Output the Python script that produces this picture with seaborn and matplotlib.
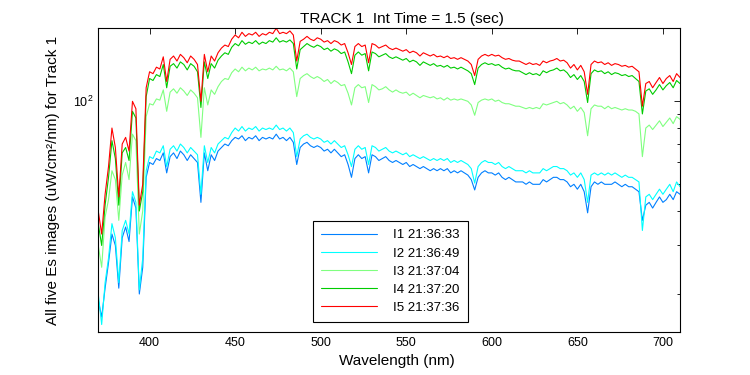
import numpy as np
import pandas as pd
import seaborn as sns
import matplotlib
matplotlib.use('Agg')
from matplotlib import pyplot as plt
from matplotlib.ticker import NullFormatter

# wavelength grid (nm) and the five Es spectra
wavelength = np.arange(370, 711, 2)

i1 = [19, 16.5, 21, 26, 33, 30, 21, 32, 35, 31,
      45, 41, 20, 25, 53, 60, 59, 62, 61, 65,
      55, 63, 65, 62, 66, 64, 61, 64, 62, 60,
      43, 65, 56, 64, 61, 66, 68, 70, 69, 72,
      74, 73, 75, 72, 74, 73, 75, 72, 74, 73,
      74, 73, 76, 73, 74, 72, 74, 71, 59, 68,
      70, 71, 69, 68, 69, 68, 66, 67, 65, 67,
      65, 63, 64, 59, 53, 62, 64, 62, 63, 55,
      64, 63, 61, 62, 63, 61, 60, 61, 60, 59,
      60, 58, 59, 58, 57, 58, 57, 56, 57, 56,
      57, 56, 57, 55, 56, 55, 56, 55, 54, 52,
      47.7, 53, 55, 56, 55, 55, 54, 55, 53, 52,
      53, 52, 51, 51, 51, 50, 51, 50, 50, 50,
      52, 51, 52, 53, 53, 52, 52, 51, 49, 50,
      48, 50, 47, 39.4, 49, 51, 50, 51, 50, 50,
      50, 51, 50, 49, 50, 49, 49, 48, 47, 37,
      42, 43, 41, 43, 45, 43, 44, 46, 44, 47,
      46]

i2 = [20, 15.5, 22, 27, 36, 32, 22, 34, 37, 33,
      47, 43, 20.7, 27, 56, 63, 62, 66, 65, 69,
      58, 67, 69, 66, 70, 68, 65, 68, 66, 64,
      46, 69, 60, 68, 65, 70, 72, 74, 73, 77,
      80, 78, 81, 78, 80, 79, 81, 78, 80, 79,
      80, 79, 82, 79, 80, 78, 80, 77, 63, 73,
      75, 76, 74, 73, 74, 73, 71, 72, 70, 72,
      70, 68, 69, 64, 58, 67, 69, 67, 68, 59,
      69, 68, 66, 67, 68, 66, 65, 66, 65, 64,
      65, 63, 64, 63, 62, 63, 62, 61, 62, 61,
      62, 61, 62, 60, 61, 60, 61, 60, 59, 57,
      50.5, 58, 60, 61, 60, 60, 59, 60, 58, 57,
      58, 57, 56, 56, 56, 55, 56, 55, 55, 55,
      57, 56, 57, 58, 58, 57, 57, 56, 54, 55,
      53, 55, 52, 43, 54, 55, 54, 55, 54, 55,
      54, 55, 54, 53, 54, 53, 53, 52, 51, 34,
      45, 46, 44, 46, 48, 46, 48, 50, 47, 51,
      49]

i3 = [30, 25, 38, 44, 56, 52, 37, 54, 60, 52,
      76, 72, 33, 40, 88, 98, 97, 102, 101, 110,
      92, 108, 111, 107, 112, 109, 105, 110, 107, 103,
      74, 112, 97, 110, 106, 113, 118, 121, 120, 127,
      131, 128, 133, 129, 132, 130, 133, 129, 131, 130,
      132, 130, 134, 130, 131, 129, 132, 128, 104, 121,
      124, 126, 123, 121, 123, 121, 118, 120, 116, 119,
      117, 114, 115, 107, 97, 112, 115, 112, 113, 99,
      115, 113, 110, 111, 113, 110, 108, 110, 108, 107,
      108, 105, 107, 105, 103, 105, 104, 103, 104, 102,
      103, 101, 103, 101, 102, 101, 102, 101, 100, 97,
      89, 99, 101, 102, 101, 102, 100, 101, 99, 98,
      98, 97, 96, 96, 95, 94, 95, 94, 95, 94,
      98, 97, 98, 99, 100, 98, 99, 97, 94, 96,
      92, 95, 91, 75, 94, 97, 96, 96, 94, 96,
      94, 95, 94, 93, 94, 93, 93, 92, 90, 63,
      80, 82, 79, 82, 85, 81, 84, 87, 83, 88,
      86]

i4 = [36, 30, 42, 53, 72, 62, 42, 65, 68, 61,
      92, 87, 40, 47, 104, 121, 119, 125, 123, 136,
      112, 134, 137, 132, 139, 136, 130, 137, 134, 128,
      95, 139, 121, 137, 132, 141, 146, 150, 148, 157,
      162, 159, 166, 161, 164, 162, 166, 161, 164, 162,
      166, 164, 170, 164, 166, 164, 167, 162, 131, 154,
      158, 162, 159, 157, 160, 158, 154, 156, 152, 155,
      153, 149, 151, 139, 126, 147, 151, 147, 149, 129,
      151, 149, 145, 147, 149, 145, 143, 145, 143, 141,
      143, 139, 141, 139, 135, 139, 137, 135, 137, 134,
      135, 133, 135, 132, 133, 131, 133, 131, 129, 126,
      115, 132, 136, 138, 136, 137, 135, 136, 133, 131,
      132, 130, 129, 129, 127, 125, 127, 125, 126, 124,
      129, 127, 129, 130, 132, 129, 130, 127, 122, 125,
      120, 124, 118, 99, 126, 130, 128, 129, 126, 128,
      125, 127, 126, 124, 125, 123, 124, 121, 118, 90,
      109, 111, 106, 110, 115, 110, 114, 117, 112, 119,
      116]

i5 = [40, 33, 46, 58, 80, 68, 45, 70, 74, 66,
      100, 94, 42, 50, 112, 128, 126, 133, 131, 145,
      118, 142, 146, 140, 148, 144, 138, 146, 142, 136,
      100, 148, 128, 146, 140, 150, 156, 160, 158, 168,
      174, 170, 178, 172, 176, 174, 178, 172, 176, 174,
      178, 176, 184, 176, 178, 176, 180, 174, 140, 165,
      168, 172, 168, 166, 170, 168, 164, 166, 162, 166,
      164, 160, 162, 150, 136, 158, 162, 158, 160, 138,
      162, 160, 156, 158, 160, 156, 154, 156, 154, 152,
      154, 150, 152, 150, 146, 150, 148, 146, 148, 145,
      146, 144, 146, 143, 144, 142, 144, 142, 140, 136,
      124, 142, 146, 148, 146, 148, 146, 147, 144, 142,
      143, 141, 140, 140, 138, 136, 138, 136, 137, 135,
      140, 138, 140, 141, 143, 140, 141, 138, 132, 136,
      130, 135, 128, 106, 136, 140, 138, 139, 136, 138,
      135, 137, 136, 134, 135, 133, 134, 131, 128, 96,
      116, 118, 112, 117, 122, 116, 121, 124, 118, 126,
      122]

labels = ['I1 21:36:33', 'I2 21:36:49', 'I3 21:37:04', 'I4 21:37:20', 'I5 21:37:36']
colors = ['#0080ff', '#00ffff', '#80ff80', '#00cc00', '#ff0000']

wide = pd.DataFrame(dict(zip(labels, [i1, i2, i3, i4, i5])))
wide['wl'] = wavelength
df = wide.melt(id_vars='wl', var_name='image', value_name='es')

sns.set_style('white', {'axes.edgecolor': 'black', 'xtick.color': 'black',
                        'ytick.color': 'black', 'text.color': 'black',
                        'axes.labelcolor': 'black'})
plt.rcParams['font.family'] = ['Liberation Sans', 'DejaVu Sans']

fig = plt.figure(figsize=(7.5, 3.75), dpi=100)
ax = fig.add_axes([0.131, 0.1155, 0.7757, 0.809])

sns.lineplot(data=df, x='wl', y='es', hue='image', hue_order=labels,
             palette=colors, linewidth=0.8, estimator=None, ax=ax)

ax.set_yscale('log')
ax.set_xlim(370, 710)
ax.set_ylim(14.6, 184)
ax.set_xticks([400, 450, 500, 550, 600, 650, 700])
ax.yaxis.set_minor_formatter(NullFormatter())
ax.tick_params(which='both', direction='in', top=True, right=True,
               labelsize=9, width=0.6)
ax.tick_params(which='major', length=4)
ax.tick_params(which='minor', length=2.5)
for s in ax.spines.values():
    s.set_linewidth(0.8)
    s.set_color('black')

ax.set_xlabel('Wavelength (nm)', fontsize=11, labelpad=2)
ax.xaxis.set_label_coords(0.513, -0.075)
ax.set_ylabel('All five Es images (uW/cm²/nm) for Track 1', fontsize=11, labelpad=9)
ax.set_title('TRACK 1  Int Time = 1.5 (sec)', fontsize=11, pad=4, x=0.522)

handles, _ = ax.get_legend_handles_labels()
leg = ax.legend(handles, labels, loc='lower left', bbox_to_anchor=(0.3686, 0.032),
                borderaxespad=0, fancybox=False, framealpha=1, edgecolor='black',
                fontsize=9.5, handlelength=4.3, handletextpad=1.2,
                labelspacing=0.45, borderpad=0.6)
leg.get_frame().set_linewidth(0.8)

fig.savefig('out.png', dpi=100)
